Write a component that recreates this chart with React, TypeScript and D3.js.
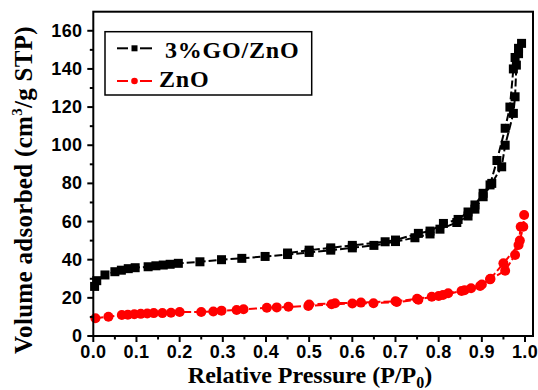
import React from "react";
import * as d3 from "d3";

const W = 538;
const H = 390;

const xTicksMajor = [0, 0.1, 0.2, 0.3, 0.4, 0.5, 0.6, 0.7, 0.8, 0.9, 1.0];
const yTicksMajor = [0, 20, 40, 60, 80, 100, 120, 140, 160];

const seriesNames = ["3%GO/ZnO", "ZnO"];
const seriesColors = ["#000000", "#ff0000"];

// 3%GO/ZnO adsorption branch [P/P0, volume]
const goAdsorption: [number, number][] = [
  [0.003, 26], [0.008, 29], [0.027, 32], [0.05, 33.7], [0.065, 34.5], [0.081, 35.3],
  [0.097, 35.8], [0.127, 36.3], [0.145, 36.8], [0.162, 37.2], [0.178, 37.6], [0.197, 38.1],
  [0.247, 38.9], [0.297, 40.0], [0.344, 40.7], [0.398, 41.7], [0.45, 42.7], [0.5, 43.8],
  [0.55, 45], [0.6, 46.2], [0.65, 47.5], [0.7, 49.5], [0.745, 51.5], [0.78, 53.5],
  [0.803, 56], [0.842, 59.5], [0.868, 62.9], [0.884, 66.5], [0.903, 73], [0.923, 80],
  [0.946, 88.7], [0.954, 100], [0.973, 116.7], [0.977, 125.4], [0.98, 142], [0.985, 148],
  [0.992, 153.4],
];
// 3%GO/ZnO desorption branch
const goDesorption: [number, number][] = [
  [0.985, 150.8], [0.977, 146], [0.973, 140], [0.965, 120], [0.954, 108.9], [0.935, 92],
  [0.919, 79.2], [0.903, 74.8], [0.884, 68.7], [0.868, 65], [0.845, 61.1], [0.811, 59],
  [0.78, 55], [0.753, 53.8], [0.7, 50.3], [0.676, 49.4], [0.6, 47.5], [0.55, 46.2],
  [0.5, 45], [0.45, 43.5],
];
// ZnO adsorption branch
const znoAdsorption: [number, number][] = [
  [0.005, 9.3], [0.035, 10.1], [0.066, 11], [0.08, 11.2], [0.095, 11.4], [0.11, 11.6],
  [0.125, 11.8], [0.14, 12], [0.16, 12], [0.18, 12.2], [0.2, 12.6], [0.25, 12.6],
  [0.278, 12.8], [0.297, 13.3], [0.332, 13.6], [0.348, 14], [0.402, 14.8], [0.425, 15],
  [0.452, 15.3], [0.498, 15.7], [0.552, 16.6], [0.6, 17], [0.649, 17.2], [0.703, 17.8],
  [0.753, 19], [0.784, 20.6], [0.81, 21.5], [0.822, 22.4], [0.853, 23.6], [0.875, 25],
  [0.896, 26.2], [0.919, 29.7], [0.954, 34.2], [0.977, 42.5], [0.988, 50], [0.996, 57.3],
  [0.998, 63.4],
];
// ZnO desorption branch
const znoDesorption: [number, number][] = [
  [0.99, 57.3], [0.985, 47.7], [0.95, 38.1], [0.92, 30], [0.9, 27], [0.86, 24],
  [0.8, 21], [0.75, 19.5], [0.7, 18.2], [0.62, 17.5], [0.56, 17.2], [0.5, 16.5],
];

const margin = { left: 93.3, right: 5, top: 11.7, bottom: 54 };

export default function App() {
  const x = d3.scaleLinear().domain([0, 1.0185]).range([margin.left, W - margin.right]);
  const y = d3.scaleLinear().domain([0, 170]).range([H - margin.bottom, margin.top]);
  const x0 = x(0), x1 = x(1.0185), y0 = y(0), y1 = y(170);

  const line = d3.line<[number, number]>().x((d) => x(d[0])).y((d) => y(d[1]));
  const xMinor = d3.range(0.05, 1.0185, 0.1);
  const yMinor = d3.range(10, 170, 20);

  const tickFont = "'Liberation Sans', Arial, sans-serif";
  const serif = "'Liberation Serif', 'Times New Roman', serif";

  const squares = (data: [number, number][], key: string) =>
    data.map((d, i) => (
      <rect key={key + i} x={x(d[0]) - 4.5} y={y(d[1]) - 4.5} width={9} height={9} fill="#000" />
    ));
  const circles = (data: [number, number][], key: string) =>
    data.map((d, i) => (
      <circle key={key + i} cx={x(d[0])} cy={y(d[1])} r={5} fill="#ff0000" />
    ));

  return (
    <svg width={W} height={H} style={{ position: "absolute", left: 0, top: 0, background: "#fff" }}>
      <rect x={0} y={0} width={W} height={H} fill="#fff" />
      {/* data lines */}
      <path d={line(goAdsorption) || ""} fill="none" stroke={seriesColors[0]} strokeWidth={2} strokeDasharray="8,3" />
      <path d={line(goDesorption) || ""} fill="none" stroke={seriesColors[0]} strokeWidth={2} strokeDasharray="8,3" />
      <path d={line(znoAdsorption) || ""} fill="none" stroke={seriesColors[1]} strokeWidth={2} strokeDasharray="8,3" />
      <path d={line(znoDesorption) || ""} fill="none" stroke={seriesColors[1]} strokeWidth={2} strokeDasharray="8,3" />
      {squares(goAdsorption, "ga")}
      {squares(goDesorption, "gd")}
      {circles(znoAdsorption, "za")}
      {circles(znoDesorption, "zd")}

      {/* frame */}
      <rect x={x0} y={y1} width={x1 - x0} height={y0 - y1} fill="none" stroke="#000" strokeWidth={2} />

      {/* x ticks */}
      {xTicksMajor.map((t) => (
        <g key={"xt" + t}>
          <line x1={x(t)} x2={x(t)} y1={y0} y2={y0 + 6} stroke="#000" strokeWidth={2} />
          <text x={x(t)} y={y0 + 22} textAnchor="middle" fontFamily={tickFont} fontWeight="bold" fontSize={18} letterSpacing={0.3}>
            {t.toFixed(1)}
          </text>
        </g>
      ))}
      {xMinor.map((t) => (
        <line key={"xm" + t} x1={x(t)} x2={x(t)} y1={y0} y2={y0 + 3.5} stroke="#000" strokeWidth={2} />
      ))}
      {/* y ticks */}
      {yTicksMajor.map((t) => (
        <g key={"yt" + t}>
          <line x1={x0} x2={x0 - 6} y1={y(t)} y2={y(t)} stroke="#000" strokeWidth={2} />
          <text x={x0 - 11} y={y(t) + 6} textAnchor="end" fontFamily={tickFont} fontWeight="bold" fontSize={18} letterSpacing={0.3}>
            {t}
          </text>
        </g>
      ))}
      {yMinor.map((t) => (
        <line key={"ym" + t} x1={x0} x2={x0 - 3.5} y1={y(t)} y2={y(t)} stroke="#000" strokeWidth={2} />
      ))}

      {/* axis titles */}
      <text x={310} y={383} textAnchor="middle" fontFamily={serif} fontWeight="bold" fontSize={24}>
        Relative Pressure (P/P<tspan fontSize={16} dy={5}>0</tspan><tspan dy={-5}>)</tspan>
      </text>
      <text
        transform="translate(32,190) rotate(-90)"
        textAnchor="middle"
        fontFamily={serif}
        fontWeight="bold"
        fontSize={25}
        letterSpacing={0.3}
      >
        Volume adsorbed (cm<tspan fontSize={15} dy={-10}>3</tspan><tspan dy={10}>/g STP)</tspan>
      </text>

      {/* legend */}
      <rect x={105} y={31.7} width={206.7} height={63.3} fill="#fff" stroke="#000" strokeWidth={1.5} />
      <line x1={117} x2={128} y1={48.3} y2={48.3} stroke={seriesColors[0]} strokeWidth={2} />
      <line x1={140} x2={152} y1={48.3} y2={48.3} stroke={seriesColors[0]} strokeWidth={2} />
      <rect x={131.5} y={45.3} width={6} height={6} fill={seriesColors[0]} />
      <text x={165} y={58} fontFamily={serif} fontWeight="bold" fontSize={24} letterSpacing={0.8}>{seriesNames[0]}</text>
      <line x1={117} x2={128} y1={81} y2={81} stroke={seriesColors[1]} strokeWidth={2} />
      <line x1={140} x2={152} y1={81} y2={81} stroke={seriesColors[1]} strokeWidth={2} />
      <circle cx={134.5} cy={81} r={3.3} fill={seriesColors[1]} />
      <text x={159} y={87.3} fontFamily={serif} fontWeight="bold" fontSize={24} letterSpacing={0.8}>{seriesNames[1]}</text>
    </svg>
  );
}
